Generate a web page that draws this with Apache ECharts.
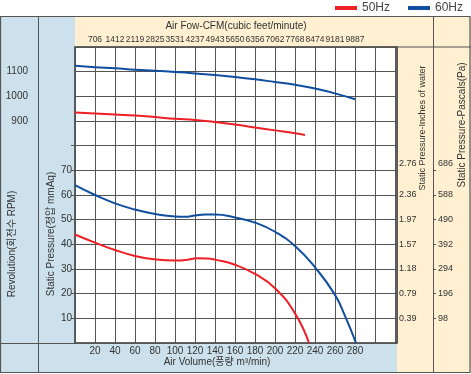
<!DOCTYPE html>
<html><head><meta charset="utf-8">
<script src="https://cdn.jsdelivr.net/npm/echarts@6/dist/echarts.min.js"></script>
<style>html,body{margin:0;padding:0;background:#fff}#c{width:471px;height:374px}</style>
</head><body><div id="c"></div>
<script>
// ---- data ----
const volumeTicks = [20,40,60,80,100,120,140,160,180,200,220,240,260,280];
const cfmLabels = ['706','1412','2119','2825','3531','4237','4943','5650','6356','7062','7768','8474','9181','9887'];
const pressureTicks = [10,20,30,40,50,60,70];
const inchLabels = ['0.39','0.79','1.18','1.57','1.97','2.36','2.76'];
const pascalLabels = ['98','196','294','392','490','588','686'];
const rpmLabels = [900,1000,1100];
const rpmMinorTicks = [100,200,300,400,500,600,700,800];

const p50X = [0,20,40,60,80,100,112,122,132,140,160,180,200,220,234];
const p50Y = [44,40.7,37.7,35.3,33.9,33.4,33.7,34.4,34.3,33.8,31.7,28,22.2,12,0];
const p60X = [0,20,40,60,80,100,110,120,130,140,160,180,200,220,240,260,270,281];
const p60Y = [64,60,56.6,54.1,52.3,51.3,51.2,51.7,52.1,52.1,50.9,48.8,45.1,39.3,30.7,19.5,11,0];
const r50X = [0,20,40,60,80,100,120,140,160,180,200,220,230];
const r50Y = [934,930,926,922,916,909,904,896,886,874,862,850,843];
const r60X = [0,20,40,60,80,100,120,140,160,180,200,220,240,260,280];
const r60Y = [1124,1118,1114,1108,1104,1099,1093,1086,1078,1069,1058,1047,1032,1012,988];

const zip = (xs, ys) => xs.map((x, i) => [x, ys[i]]);
const RED = '#ee1f26', BLUE = '#104ea0';
const BLUEBG = '#cce1eb', YEL = '#fef0d1', LINE = '#555';
const FONT = "'Liberation Sans','Noto Sans CJK KR',sans-serif";
const NARROW = "'Liberation Sans Narrow','Liberation Sans',sans-serif";
const txt = (s) => ({color:'#333', fontSize:s, fontFamily:FONT});
const topIdx = pressureTicks.length - 1;
const lift = (s) => ({hi:{padding:[0,0,14,0], color:'#333', fontSize:s, fontFamily:FONT}});

const chart = echarts.init(document.getElementById('c'), null, {renderer:'canvas'});
chart.setOption({
  animation:false,
  backgroundColor:'#fff',
  graphic:[
    {type:'rect', z:-5, shape:{x:0,y:17,width:75,height:356}, style:{fill:BLUEBG}},
    {type:'rect', z:-5, shape:{x:75,y:343,width:322,height:30}, style:{fill:BLUEBG}},
    {type:'rect', z:-5, shape:{x:75,y:17,width:396,height:30}, style:{fill:YEL}},
    {type:'rect', z:-5, shape:{x:397,y:47,width:74,height:326}, style:{fill:YEL}},
    {type:'rect', z:-4, shape:{x:0.5,y:16.5,width:469.5,height:356}, style:{fill:null, stroke:LINE, lineWidth:1.2}},
    {type:'line', z:-4, shape:{x1:38.5,y1:17,x2:38.5,y2:372}, style:{stroke:LINE, lineWidth:1}},
    {type:'line', z:-4, shape:{x1:433.5,y1:17,x2:433.5,y2:372}, style:{stroke:LINE, lineWidth:1}},
    {type:'line', z:-4, shape:{x1:0,y1:343.5,x2:75,y2:343.5}, style:{stroke:LINE, lineWidth:1}},
    {type:'line', z:-4, shape:{x1:397,y1:47,x2:471,y2:47}, style:{stroke:LINE, lineWidth:1}}
  ],
  legend:{
    top:-3, right:3, itemWidth:22, itemHeight:4, itemGap:18, icon:'rect',
    data:['50Hz','60Hz'], textStyle:Object.assign(txt(12),{color:'#444'})
  },
  grid:{left:75, top:47, right:74, bottom:31, show:true, backgroundColor:'#fff', borderColor:'#333', borderWidth:1.5, containLabel:false, outerBoundsMode:'none'},
  xAxis:[
    {type:'value', position:'bottom', min:0, max:322, interval:20,
     axisLine:{show:false}, axisTick:{show:false},
     splitLine:{show:true, lineStyle:{color:LINE, width:1}},
     axisLabel:{customValues:volumeTicks, margin:3, ...txt(10), formatter:(v)=>String(v)},
     name:'Air Volume(풍량 m³/min)', nameLocation:'middle', nameGap:14, nameMoveOverlap:false,
     nameTextStyle:Object.assign(txt(10),{padding:[0,38,0,0]})},
    {type:'value', position:'top', min:0, max:322, interval:20,
     axisLine:{show:false}, axisTick:{show:false}, splitLine:{show:false},
     axisLabel:{customValues:volumeTicks, margin:3, color:'#333', fontSize:8.5, fontFamily:NARROW,
       formatter:(v)=>cfmLabels[volumeTicks.indexOf(v)] || ''},
     name:'Air Fow-CFM(cubic feet/minute)', nameLocation:'middle', nameGap:16, nameMoveOverlap:false,
     nameTextStyle:txt(10)}
  ],
  yAxis:[
    {type:'value', position:'left', min:0, max:120, interval:10,
     axisLine:{show:false}, axisTick:{show:false},
     splitLine:{show:true, lineStyle:{color:LINE, width:1}},
     axisLabel:{customValues:pressureTicks, margin:3, ...txt(10), formatter:(v)=>String(v)},
     name:'Static Pressure(정압 mmAq)', nameLocation:'middle', nameRotate:90, nameGap:19, nameMoveOverlap:false,
     nameTextStyle:Object.assign(txt(10),{padding:[0,78,0,0]})},
    {type:'value', position:'left', offset:38, min:0, max:1200, interval:100,
     axisLine:{show:false},
     axisTick:{show:true, customValues:rpmMinorTicks, length:4, lineStyle:{color:LINE}},
     splitLine:{show:false},
     axisLabel:{customValues:rpmLabels, margin:9, ...txt(10), formatter:(v)=>String(v)},
     name:'Revolution(회전수 RPM)', nameLocation:'middle', nameRotate:90, nameGap:20, nameMoveOverlap:false,
     nameTextStyle:Object.assign(txt(10),{padding:[0,98,0,0]})},
    {type:'value', position:'right', min:0, max:120, interval:10,
     axisLine:{show:false}, axisTick:{show:false}, splitLine:{show:false},
     axisLabel:{customValues:pressureTicks, margin:2, ...txt(9), rich:lift(9),
       formatter:(v)=>{const i = pressureTicks.indexOf(v); return i === topIdx ? '{hi|' + inchLabels[i] + '}' : (inchLabels[i] || '');}},
     name:'Static Pressure-Inches of water', nameLocation:'middle', nameRotate:90, nameGap:21, nameMoveOverlap:false,
     nameTextStyle:Object.assign(txt(9),{padding:[0,0,0,134]})},
    {type:'value', position:'right', offset:36, min:0, max:120, interval:10,
     axisLine:{show:false},
     axisTick:{show:true, customValues:pressureTicks, length:3, lineStyle:{color:LINE}},
     splitLine:{show:false},
     axisLabel:{customValues:pressureTicks, margin:5, ...txt(9), rich:lift(9),
       formatter:(v)=>{const i = pressureTicks.indexOf(v); return i === topIdx ? '{hi|' + pascalLabels[i] + '}' : (pascalLabels[i] || '');}},
     name:'Static Pressure-Pascals(Pa)', nameLocation:'middle', nameRotate:90, nameGap:24, nameMoveOverlap:false,
     nameTextStyle:Object.assign(txt(10),{padding:[0,0,0,140]})}
  ],
  series:[
    {name:'50Hz', type:'line', xAxisIndex:0, yAxisIndex:0, data:zip(p50X,p50Y), smooth:0.5, showSymbol:false, lineStyle:{color:RED,width:2}, itemStyle:{color:RED}, z:5},
    {name:'60Hz', type:'line', xAxisIndex:0, yAxisIndex:0, data:zip(p60X,p60Y), smooth:0.5, showSymbol:false, lineStyle:{color:BLUE,width:2}, itemStyle:{color:BLUE}, z:5},
    {name:'50Hz', type:'line', xAxisIndex:0, yAxisIndex:1, data:zip(r50X,r50Y), smooth:0.5, showSymbol:false, lineStyle:{color:RED,width:2}, itemStyle:{color:RED}, z:5},
    {name:'60Hz', type:'line', xAxisIndex:0, yAxisIndex:1, data:zip(r60X,r60Y), smooth:0.5, showSymbol:false, lineStyle:{color:BLUE,width:2}, itemStyle:{color:BLUE}, z:5}
  ]
});
</script></body></html>
